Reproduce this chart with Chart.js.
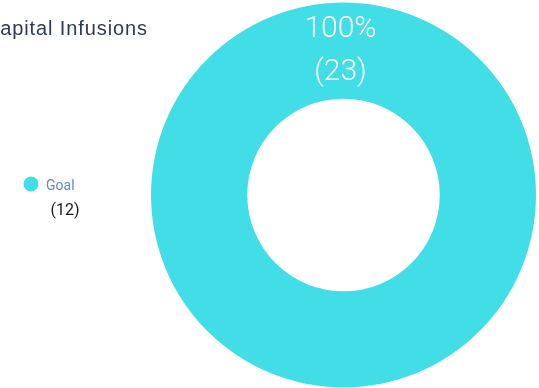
<!DOCTYPE html>
<html>
<head>
<meta charset="utf-8">
<script src="https://cdn.jsdelivr.net/npm/chart.js@4.4.1/dist/chart.umd.min.js"></script>
<style>
  html, body { margin: 0; padding: 0; background: #fff; }
  #capitalChart { display: block; }
</style>
</head>
<body>
<canvas id="capitalChart" width="539" height="388"></canvas>
<script>
// Capital infusions vs. goal
const categories = ["Goal"];
const values = [23];
const legendCounts = [12];
const sliceColors = ['#42DEE8'];

// Percentage + count drawn on the ring at the start of each slice
const ringLabels = {
    id: 'ringLabels',
    afterDatasetsDraw(chart) {
        const ctx = chart.ctx;
        const data = chart.data.datasets[0].data;
        const total = data.reduce((a, b) => a + b, 0);
        chart.getDatasetMeta(0).data.forEach((arc, i) => {
            const p = arc.getProps(['x', 'y', 'startAngle', 'innerRadius', 'outerRadius'], true);
            const r = (p.innerRadius + p.outerRadius) / 2;
            const cx = p.x + Math.cos(p.startAngle) * r - 3;
            const cy = p.y + Math.sin(p.startAngle) * r - 3;
            ctx.save();
            ctx.fillStyle = '#ffffff';
            ctx.font = '300 30px Roboto';
            ctx.textAlign = 'center';
            ctx.textBaseline = 'alphabetic';
            ctx.fillText(Math.round(data[i] / total * 100) + '%', cx, cy - 11);
            ctx.fillText('(' + data[i] + ')', cx, cy + 32.5);
            ctx.restore();
        });
    }
};

// Title and side legend
const sideText = {
    id: 'sideText',
    afterDraw(chart) {
        const ctx = chart.ctx;
        ctx.save();
        ctx.fillStyle = '#2b3a55';
        ctx.font = '20px "Liberation Sans"';
        ctx.letterSpacing = '0.9px';
        ctx.textAlign = 'right';
        ctx.textBaseline = 'alphabetic';
        ctx.fillText('Capital Infusions', 148, 35);
        ctx.letterSpacing = '0px';

        categories.forEach((cat, i) => {
            const y = 184 + i * 40;
            ctx.fillStyle = sliceColors[i];
            ctx.beginPath();
            ctx.arc(31, y, 7.5, 0, Math.PI * 2);
            ctx.fill();
            ctx.textAlign = 'left';
            ctx.fillStyle = '#5b8db7';
            ctx.font = '14px Roboto';
            ctx.fillText(cat, 46, y + 6);
            ctx.textAlign = 'center';
            ctx.fillStyle = '#1a1a1a';
            ctx.font = '16px Roboto';
            ctx.fillText('(' + legendCounts[i] + ')', 65, y + 31);
        });
        ctx.restore();
    }
};

const capitalChart = new Chart(document.getElementById('capitalChart'), {
    type: 'doughnut',
    data: {
        labels: categories,
        datasets: [
            {
                data: values,
                backgroundColor: sliceColors,
                borderWidth: 0,
            }
        ]
    },
    options: {
        responsive: false,
        animation: false,
        cutout: '50%',
        layout: {
            padding: { left: 151, right: 3, top: 2.5, bottom: 0.5 }
        },
        plugins: {
            legend: { display: false },
            title: { display: false },
            tooltip: { enabled: false }
        }
    },
    plugins: [ringLabels, sideText]
});
</script>
</body>
</html>
